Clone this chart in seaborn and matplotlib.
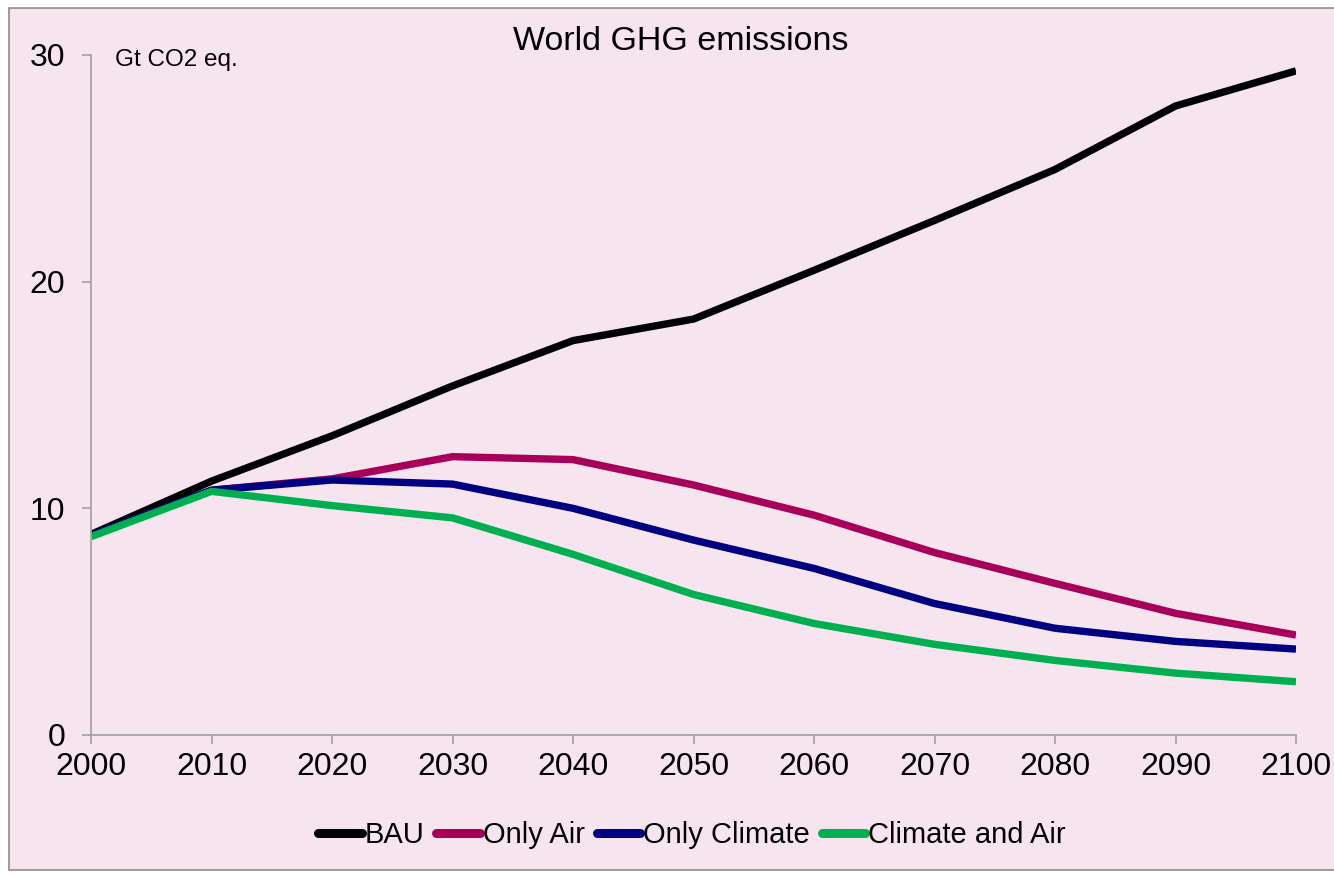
import matplotlib
matplotlib.use("Agg")
import matplotlib.pyplot as plt
from matplotlib.patches import Rectangle
import seaborn as sns
import pandas as pd

# World GHG emissions by scenario (Gt CO2 eq.)
years = [2000, 2010, 2020, 2030, 2040, 2050, 2060, 2070, 2080, 2090, 2100]
bau = [8.85, 11.2, 13.2, 15.4, 17.4, 18.35, 20.5, 22.7, 24.95, 27.75, 29.3]
only_air = [8.8, 10.8, 11.3, 12.28, 12.15, 11.03, 9.7, 8.05, 6.69, 5.37, 4.41]
only_climate = [8.8, 10.8, 11.25, 11.07, 10.0, 8.6, 7.35, 5.8, 4.71, 4.13, 3.79]
climate_and_air = [8.75, 10.75, 10.12, 9.58, 7.97, 6.2, 4.92, 4.0, 3.29, 2.73, 2.35]

scenarios = ["BAU", "Only Air", "Only Climate", "Climate and Air"]
colors = ["#000000", "#A8005A", "#000080", "#00B050"]
y_ticks = [0, 10, 20, 30]
x_ticks = years

df = pd.DataFrame({
    "year": years * 4,
    "value": bau + only_air + only_climate + climate_and_air,
    "scenario": sum([[s] * len(years) for s in scenarios], []),
})

sns.set_style("white")
plt.rcParams["font.family"] = ["Liberation Sans", "DejaVu Sans"]
plt.rcParams["text.color"] = "black"
plt.rcParams["xtick.color"] = "black"
plt.rcParams["ytick.color"] = "black"

bg = "#F6E5EF"
axis_gray = "#A0A0A0"

fig = plt.figure(figsize=(13.34, 8.77), dpi=100)
fig.patch.set_facecolor("white")
# Pink chart panel with a thin grey frame
panel = Rectangle((9 / 1334, 7 / 877), 1.05, (877 - 8 - 7) / 877,
                  transform=fig.transFigure, facecolor=bg,
                  edgecolor="#8C8C8C", linewidth=1.2, zorder=-5)
fig.patches.append(panel)

ax = fig.add_axes([91 / 1334, 142 / 877, (1296 - 91) / 1334, (735 - 55) / 877])
ax.set_facecolor("none")
ax.set_zorder(2)

sns.lineplot(data=df, x="year", y="value", hue="scenario", hue_order=scenarios,
             palette=dict(zip(scenarios, colors)), linewidth=5.3, ax=ax,
             legend=False)
for ln in ax.get_lines():
    ln.set_solid_capstyle("butt")
    ln.set_solid_joinstyle("miter")

ax.set_xlim(2000, 2100)
ax.set_ylim(0, 30)
ax.set_xticks(x_ticks)
ax.set_yticks(y_ticks)
ax.set_xlabel("")
ax.set_ylabel("")
for side in ["top", "right"]:
    ax.spines[side].set_visible(False)
for side in ["left", "bottom"]:
    ax.spines[side].set_color(axis_gray)
    ax.spines[side].set_linewidth(1.2)
ax.tick_params(axis="both", direction="out", length=6.5, width=1.2,
               color=axis_gray, labelsize=23, labelcolor="black")
ax.tick_params(axis="y", pad=12)
ax.tick_params(axis="x", pad=6)
ax.tick_params(axis="both", left=True, bottom=True)

fig.text(115 / 1334, 1 - 60 / 877, "Gt CO2 eq.", ha="left", va="center",
         fontsize=17.5, color="black")
fig.text(681 / 1334, 1 - 42 / 877, "World GHG emissions", ha="center",
         va="center", fontsize=24.5, color="black")

handles = [plt.Line2D([], [], color=c, linewidth=6.5, solid_capstyle="round")
           for c in colors]
fig.legend(handles, scenarios, loc="center", bbox_to_anchor=(692 / 1334, 42 / 877),
           ncol=4, frameon=False, handlelength=1.5, handletextpad=0.1,
           columnspacing=0.4, prop={"size": 21}, labelcolor="black")

fig.savefig("out.png", dpi=100, facecolor=fig.get_facecolor())
